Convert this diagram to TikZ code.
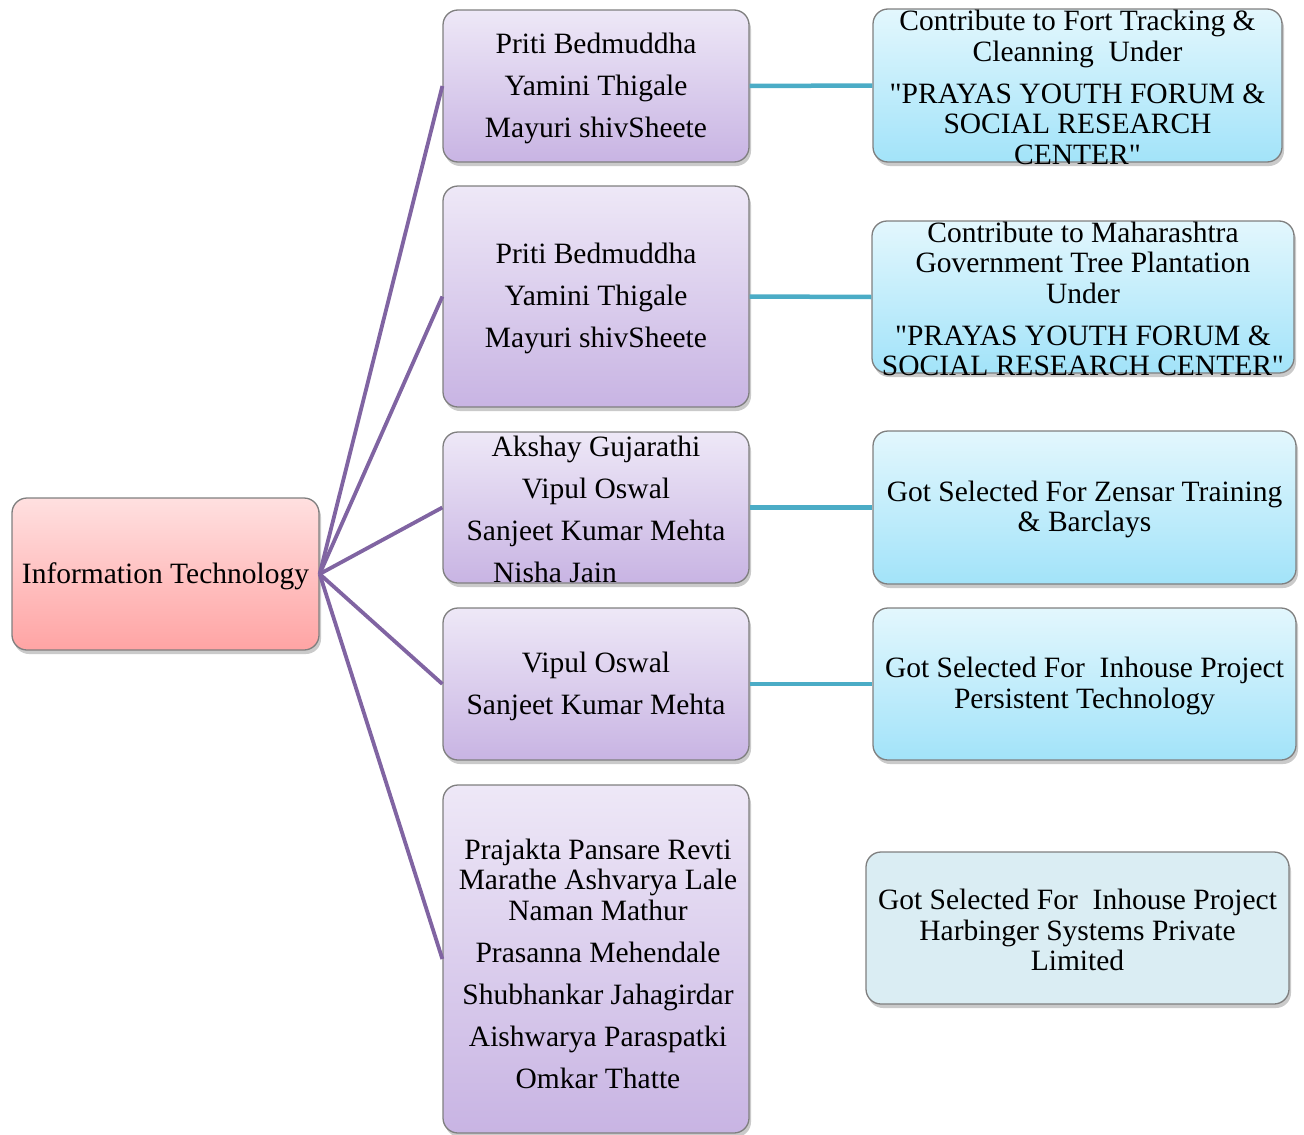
\documentclass[tikz,border=0pt]{standalone}
\usepackage{fontspec}
\setmainfont{Liberation Serif}[Ligatures=TeXOff]
\usetikzlibrary{shadows}
\definecolor{pline}{HTML}{8064A2}
\definecolor{tline}{HTML}{4BACC6}
\definecolor{bordergray}{HTML}{7F7F7F}
\definecolor{ptop}{HTML}{EEE8F7}
\definecolor{pbot}{HTML}{C8B4E3}
\definecolor{btop}{HTML}{E3F7FD}
\definecolor{bbot}{HTML}{A2E3F9}
\definecolor{rtop}{HTML}{FFE0E0}
\definecolor{rbot}{HTML}{FFA4A4}
\definecolor{plainblue}{HTML}{DAEDF3}
\tikzset{
  basebox/.style={draw=bordergray, line width=1.3pt, rounded corners=15pt, inner sep=0pt,
    drop shadow={shadow xshift=2pt, shadow yshift=-4pt, opacity=0.35, fill=black!60}},
  rootbox/.style={basebox, top color=rtop, bottom color=rbot},
  pbox/.style={basebox, top color=ptop, bottom color=pbot},
  bbox/.style={basebox, top color=btop, bottom color=bbot},
  gbox/.style={basebox, fill=plainblue},
  txt/.style={align=center, inner sep=0pt, yshift=-2pt, font=\fontsize{29.5}{30.5}\selectfont},
  plink/.style={draw=pline, line width=3.8pt},
  tlink/.style={draw=tline, line width=4.5pt}
}
\begin{document}
\begin{tikzpicture}[x=1pt,y=-1pt]
\useasboundingbox (0,0) rectangle (1304,1135);
% boxes
\node[rootbox, minimum width=307pt, minimum height=152pt] (root) at (165.5,574) {};
\node[pbox, minimum width=306pt, minimum height=152pt] (p1) at (596,86) {};
\node[pbox, minimum width=306pt, minimum height=221pt] (p2) at (596,296.5) {};
\node[pbox, minimum width=306pt, minimum height=151pt] (p3) at (596,507.5) {};
\node[pbox, minimum width=306pt, minimum height=152pt] (p4) at (596,684) {};
\node[pbox, minimum width=306pt, minimum height=348pt] (p5) at (596,959) {};
\node[bbox, minimum width=409pt, minimum height=153pt] (b1) at (1077.5,85.5) {};
\node[bbox, minimum width=422pt, minimum height=152pt] (b2) at (1083,297) {};
\node[bbox, minimum width=423pt, minimum height=153pt] (b3) at (1084.5,507.5) {};
\node[bbox, minimum width=423pt, minimum height=152pt] (b4) at (1084.5,684) {};
\node[gbox, minimum width=423pt, minimum height=152pt] (b5) at (1077.5,928) {};
% connectors
\draw[plink] (root.east) -- (p1.west);
\draw[plink] (root.east) -- (p2.west);
\draw[plink] (root.east) -- (p3.west);
\draw[plink] (root.east) -- (p4.west);
\draw[plink] (root.east) -- (p5.west);
\draw[tlink] (p1.east) -- (b1.west);
\draw[tlink] (p2.east) -- (b2.west);
\draw[tlink] (p3.east) -- (b3.west);
\draw[tlink] (p4.east) -- (b4.west);
% texts
\node[txt] (roott) at (root) {Information Technology};
\node[txt] (p1t) at (p1) {Priti Bedmuddha\\[11.5pt]Yamini Thigale\\[11.5pt]Mayuri shivSheete};
\node[txt] (p2t) at (p2) {Priti Bedmuddha\\[11.5pt]Yamini Thigale\\[11.5pt]Mayuri shivSheete};
\node[txt] (p3t) at (p3) {Akshay Gujarathi\\[11.5pt]Vipul Oswal\\[11.5pt]Sanjeet Kumar Mehta\\[11.5pt]Nisha Jain\rule{82pt}{0pt}};
\node[txt] (p4t) at (p4) {Vipul Oswal\\[11.5pt]Sanjeet Kumar Mehta};
\node[txt] (p5t) at (598,961.5) {Prajakta Pansare Revti\\Marathe Ashvarya Lale\\Naman Mathur\\[11.5pt]Prasanna Mehendale\\[11.5pt]Shubhankar Jahagirdar\\[11.5pt]Aishwarya Paraspatki\\[11.5pt]Omkar Thatte};
\node[txt] (b1t) at (b1) {Contribute to Fort Tracking \&\\Cleanning~ Under\\[11.5pt]"PRAYAS YOUTH FORUM \&\\SOCIAL RESEARCH\\CENTER"};
\node[txt] (b2t) at (b2) {Contribute to Maharashtra\\Government Tree Plantation\\Under\\[11.5pt]"PRAYAS YOUTH FORUM \&\\SOCIAL RESEARCH CENTER"};
\node[txt] (b3t) at (b3) {Got Selected For Zensar Training\\\& Barclays};
\node[txt] (b4t) at (b4) {Got Selected For~ Inhouse Project\\Persistent Technology};
\node[txt] (b5t) at (b5) {Got Selected For~ Inhouse Project\\Harbinger Systems Private\\Limited};
\end{tikzpicture}
\end{document}
